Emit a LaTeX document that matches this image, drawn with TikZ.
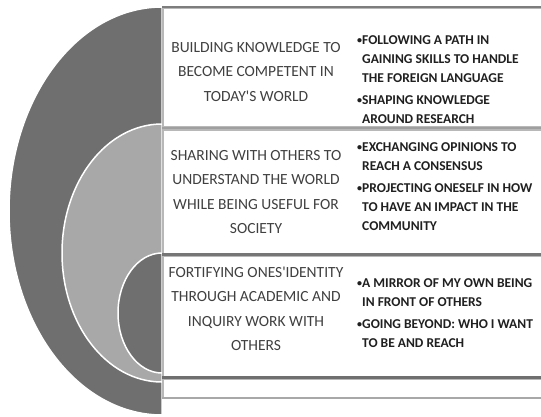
\documentclass[tikz,border=0pt]{standalone}
\usepackage{fontspec}
\setmainfont{Carlito}
\definecolor{darkband}{HTML}{6F6F6F}
\definecolor{lightband}{HTML}{A8A8A8}
\definecolor{boxedge}{HTML}{B8B8B8}
\definecolor{lefttext}{HTML}{404040}
\definecolor{righttext}{HTML}{202020}
\newcommand{\dotmark}{{\fontsize{10}{10}\selectfont\raisebox{1.2pt}{•}}}
\newcommand{\apos}{\textquotesingle}
\begin{document}
\begin{tikzpicture}[x=1pt,y=-1pt,
    band/.style={draw=white,line width=1.5pt},
    panel/.style={fill=white,draw=boxedge,line width=1.2pt},
    rim/.style={line width=2.6pt}]
  \tikzstyle{theme}=[align=center,text=lefttext,font=\fontsize{15.5}{24.5}\selectfont,inner sep=0pt]
  \tikzstyle{points}=[align=left,text=righttext,font=\bfseries\fontsize{13.5}{19}\selectfont,inner sep=0pt,anchor=west]

  \useasboundingbox (0,0) rectangle (541,416);
  \fill[white] (0,0) rectangle (541,416);

  % nested half ellipses
  \path[band,fill=darkband] (162,7) arc[start angle=270,end angle=90,x radius=153,y radius=204] -- cycle;
  \path[band,fill=lightband] (162,124) arc[start angle=270,end angle=90,x radius=100,y radius=129] -- cycle;
  \path[band,fill=darkband] (162,253) arc[start angle=270,end angle=90,x radius=44,y radius=60] -- cycle;

  % panels
  \path[panel] (163,8) rectangle (545,127);
  \path[panel] (163,130) rectangle (545,254);
  \path[panel] (163,256) rectangle (545,377);
  \path[panel] (163,379) rectangle (545,398);
  \draw[rim,draw=darkband!90] (162,7) -- (541,7);
  \draw[rim,draw=gray!75] (162,128) -- (541,128);
  \draw[rim,draw=darkband!95] (162,254.5) -- (541,254.5);
  \draw[rim,draw=darkband] (162,377.5) -- (541,377.5);
  \draw[line width=1.8pt,draw=lightband] (162,398) -- (541,398);

  % texts
  \node[theme] (build) at (256,72) {BUILDING KNOWLEDGE TO\\BECOME COMPETENT IN\\TODAY\apos S WORLD};
  \node[theme] (share) at (256,192) {SHARING WITH OTHERS TO\\UNDERSTAND THE WORLD\\WHILE BEING USEFUL FOR\\SOCIETY};
  \node[theme] (fortify) at (256,309) {FORTIFYING ONES\apos IDENTITY\\THROUGH ACADEMIC AND\\INQUIRY WORK WITH\\OTHERS};

  \node[points] (build pts) at (357,80) {\dotmark FOLLOWING A PATH IN\\\hspace*{5pt}GAINING SKILLS TO HANDLE\\\hspace*{5pt}THE FOREIGN LANGUAGE\\[3pt]\dotmark SHAPING KNOWLEDGE\\\hspace*{5pt}AROUND RESEARCH};
  \node[points] (share pts) at (357,187) {\dotmark EXCHANGING OPINIONS TO\\\hspace*{5pt}REACH A CONSENSUS\\[3pt]\dotmark PROJECTING ONESELF IN HOW\\\hspace*{5pt}TO HAVE AN IMPACT IN THE\\\hspace*{5pt}COMMUNITY};
  \node[points] (fortify pts) at (357,313) {\dotmark A MIRROR OF MY OWN BEING\\\hspace*{5pt}IN FRONT OF OTHERS\\[3pt]\dotmark GOING BEYOND: WHO I WANT\\\hspace*{5pt}TO BE AND REACH};
\end{tikzpicture}
\end{document}
